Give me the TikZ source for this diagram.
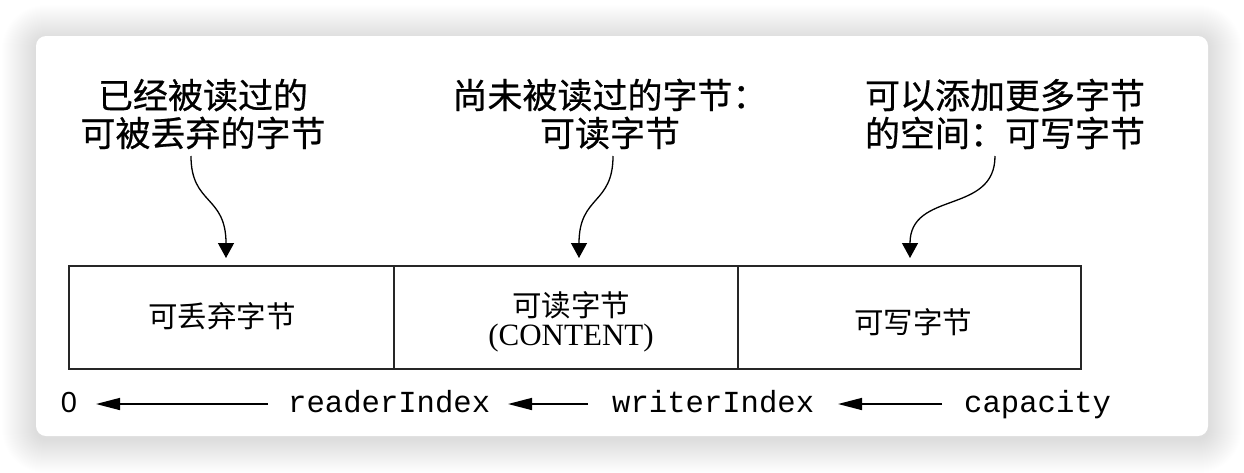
\documentclass[tikz,border=0pt]{standalone}
\usepackage{fontspec}
\newfontfamily\cjk{Noto Sans CJK SC}
\newfontfamily\cjkb{Noto Sans CJK SC}[FakeBold=0.6]
\newfontfamily\monof{Liberation Mono}
\newfontfamily\serf{Liberation Serif}
\newfontfamily\sansf{Liberation Sans}
\usetikzlibrary{arrows.meta,calc}
\tikzset{
  toplabel/.style={align=center, inner sep=0pt, font=\cjkb\fontsize{35}{38}\selectfont},
  cell/.style={draw=black!85, line width=1.8pt, minimum height=103pt, inner sep=0pt, anchor=north west, align=center},
  celltext/.style={inner sep=0pt, font=\cjk\fontsize{29.5}{33}\selectfont},
  idx/.style={inner sep=0pt, anchor=base west, font=\monof\fontsize{30.6}{34}\selectfont},
  curvearrow/.style={line width=1.3pt, -{Triangle[length=15pt,width=16pt]}},
  idxarrow/.style={line width=1.5pt, -{Triangle[length=24pt,width=12pt]}},
}
\begin{document}
\begin{tikzpicture}[x=1pt,y=-1pt]
\useasboundingbox (0,0) rectangle (1244,472);
% soft shadow
\foreach \i in {1,...,34}{
  \pgfmathsetmacro\r{10+\i}
  \fill[black, opacity=0.0035, rounded corners=\r pt] ({36-\i},{36-\i+3}) rectangle ({1208+\i},{436+\i+3});
}
% card
\fill[white, rounded corners=10pt] (36,36) rectangle (1208,436);

% top labels
\node[toplabel] (lab1) at (203,114) {已经被读过的\\可被丢弃的字节};
\node[toplabel] (lab2) at (610,114) {尚未被读过的字节：\\可读字节};
\node[toplabel] (lab3) at (1005,114) {可以添加更多字节\\的空间：可写字节};

% cells
\node[cell, minimum width=325pt] (c1) at (68,265) {};
\node[cell, minimum width=344pt] (c2) at (393,265) {};
\node[cell, minimum width=343pt] (c3) at (737,265) {};
\node[celltext] (t1) at (222,316) {可丢弃字节};
\node[celltext] (t2) at (571,305) {可读字节};
\node[inner sep=0pt, font=\serf\fontsize{31}{33}\selectfont] (t2b) at (571,338) {(CONTENT)};
\node[celltext] (t3) at (913,322) {可写字节};

% curved arrows
\coordinate (s1) at (191,156);
\coordinate (e1) at (226,258);
\coordinate (s2) at (613,156);
\coordinate (e2) at (579,258);
\coordinate (s3) at (995,156);
\coordinate (e3) at (910,258);
\draw[curvearrow] (s1) .. controls (191,205) and (226,195) .. (e1);
\draw[curvearrow] (s2) .. controls (613,205) and (579,195) .. (e2);
\draw[curvearrow] (s3) .. controls (995,215) and (910,190) .. (e3);

% index row
\node[inner sep=0pt, anchor=base, font=\sansf\fontsize{29}{30}\selectfont] (zero) at (69,412) {0};
\node[idx] (ri) at (288,412) {readerIndex};
\node[idx] (wi) at (612,412) {writerIndex};
\node[idx] (cap) at (964,412) {capacity};
\coordinate (r0) at (268,404);
\coordinate (z0) at (96,404);
\coordinate (w0) at (588,404);
\coordinate (r1) at (508,404);
\coordinate (c0) at (942,404);
\coordinate (w1) at (838,404);
\draw[idxarrow] (r0) -- (z0);
\draw[idxarrow] (w0) -- (r1);
\draw[idxarrow] (c0) -- (w1);
\end{tikzpicture}
\end{document}
